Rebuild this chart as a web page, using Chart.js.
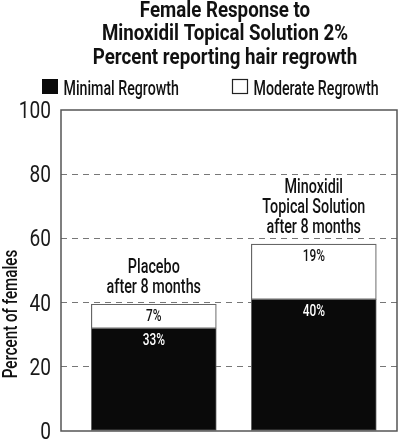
<!DOCTYPE html>
<html lang="en">
<head>
  <meta charset="UTF-8" />
  <title>Female Response to Minoxidil Topical Solution 2%</title>
  <style>
    html, body { margin: 0; padding: 0; background: #fff; }
    #wrap { width: 400px; height: 439px; }
  </style>
</head>
<body>
  <div id="wrap"><canvas id="chart"></canvas></div>

  <script src="https://cdn.jsdelivr.net/npm/chart.js"></script>
  <script>
    // data
    const groups = [['Placebo', 'after 8 months'], ['Minoxidil', 'Topical Solution', 'after 8 months']];
    const groupX = [0, 1];
    const minimal = [32, 41];
    const moderate = [7.5, 17.2];
    const minimalLabels = ['33%', '40%'];
    const moderateLabels = ['7%', '19%'];
    const yTicks = [0, 20, 40, 60, 80, 100];
    const titleLines = ['Female Response to', 'Minoxidil Topical Solution 2%', 'Percent reporting hair regrowth'];

    const FONT = "Roboto, 'DejaVu Sans', sans-serif";

    // no condensed face installed, so squeeze text horizontally around its anchor
    function squeezed(ctx, text, x, y, font, align, sq) {
      ctx.save();
      ctx.font = font;
      ctx.textAlign = align || 'center';
      ctx.translate(x, y);
      ctx.scale(sq, 1);
      ctx.fillText(text, 0, 0);
      ctx.restore();
    }

    const extras = {
      id: 'extras',
      afterDraw(chart) {
        const ctx = chart.ctx;
        const a = chart.chartArea;
        const ys = chart.scales.y;
        ctx.save();
        ctx.textBaseline = 'alphabetic';

        // plot frame
        ctx.strokeStyle = '#555';
        ctx.lineWidth = 1.5;
        ctx.strokeRect(a.left, a.top, a.right - a.left, a.bottom - a.top);

        // y tick labels
        ctx.fillStyle = '#1a1a1a';
        ys.ticks.forEach(t => {
          squeezed(ctx, String(t.value), a.left - 10, ys.getPixelForValue(t.value) + 8, '23px ' + FONT, 'right', 0.83);
        });

        // title
        ctx.fillStyle = '#111';
        titleLines.forEach((t, i) => squeezed(ctx, t, 225, 17 + i * 23.3, 'bold 21.5px ' + FONT, 'center', 0.87));

        // legend
        ctx.fillStyle = '#0a0a0a';
        ctx.fillRect(42, 79, 16, 15);
        ctx.fillStyle = '#111';
        squeezed(ctx, chart.data.datasets[0].label, 63.5, 94.5, '500 20px ' + FONT, 'left', 0.71);
        ctx.fillStyle = '#fff';
        ctx.fillRect(232, 79, 16, 15);
        ctx.strokeStyle = '#222';
        ctx.lineWidth = 1.2;
        ctx.strokeRect(232.5, 79.5, 15, 14);
        ctx.fillStyle = '#111';
        squeezed(ctx, chart.data.datasets[1].label, 253.5, 94.5, '500 20px ' + FONT, 'left', 0.71);

        // y axis title
        ctx.save();
        ctx.translate(17, 314);
        ctx.rotate(-Math.PI / 2);
        squeezed(ctx, 'Percent of females', 0, 0, '500 20.5px ' + FONT, 'center', 0.74);
        ctx.restore();

        // segment labels and group names
        const m0 = chart.getDatasetMeta(0).data;
        const m1 = chart.getDatasetMeta(1).data;
        m0.forEach((bar, i) => {
          ctx.fillStyle = '#fff';
          squeezed(ctx, minimalLabels[i], bar.x, bar.y + 17, '500 16.5px ' + FONT, 'center', 0.72);
        });
        m1.forEach((bar, i) => {
          ctx.fillStyle = '#111';
          squeezed(ctx, moderateLabels[i], bar.x, bar.y + 17, '500 16.5px ' + FONT, 'center', 0.72);
          const lines = groups[i];
          lines.forEach((l, j) => {
            squeezed(ctx, l, bar.x, bar.y - 11 - (lines.length - 1 - j) * 20, '500 20.5px ' + FONT, 'center', 0.7);
          });
        });
        ctx.restore();
      }
    };

    new Chart(document.getElementById('chart'), {
      type: 'bar',
      data: {
        datasets: [
          {
            label: 'Minimal Regrowth',
            data: groupX.map((x, i) => ({ x: x, y: minimal[i] })),
            backgroundColor: '#0a0a0a',
            borderColor: '#666',
            borderWidth: 1,
            borderSkipped: false,
            barThickness: 125
          },
          {
            label: 'Moderate Regrowth',
            data: groupX.map((x, i) => ({ x: x, y: moderate[i] })),
            backgroundColor: '#fff',
            borderColor: '#666',
            borderWidth: 1.2,
            borderSkipped: false,
            barThickness: 125
          }
        ]
      },
      options: {
        responsive: true,
        maintainAspectRatio: false,
        animation: false,
        layout: { padding: { top: 110, right: 3, bottom: 8, left: 0 } },
        plugins: {
          legend: { display: false },
          title: { display: false },
          tooltip: { enabled: false }
        },
        scales: {
          x: {
            type: 'linear',
            stacked: true,
            offset: false,
            display: false,
            min: -0.58,
            max: 1.52
          },
          y: {
            stacked: true,
            min: 0,
            max: 100,
            afterFit: s => { s.width = 61; },
            afterBuildTicks: s => { s.ticks = yTicks.map(v => ({ value: v })); },
            grid: {
              drawTicks: false,
              color: c => (c.tick.value === 0 || c.tick.value === 100) ? 'rgba(0,0,0,0)' : '#777',
              lineWidth: 1
            },
            border: { display: false, dash: [6, 5] },
            ticks: { display: false }
          }
        }
      },
      plugins: [extras]
    });
  </script>
</body>
</html>
